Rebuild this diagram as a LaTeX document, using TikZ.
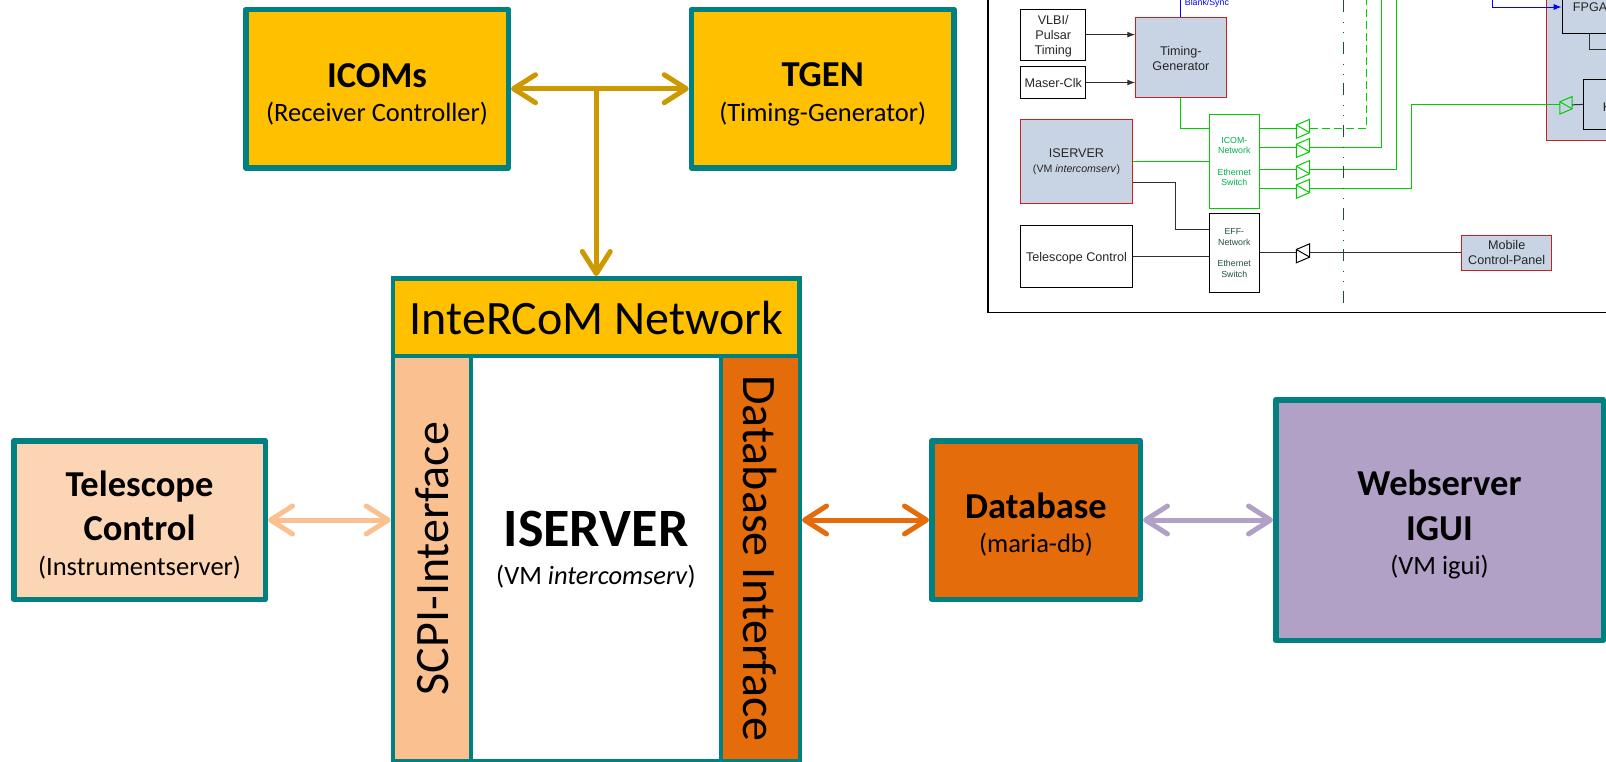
\documentclass[tikz,border=0pt]{standalone}
\usepackage{fontspec}
\setmainfont{Carlito}
\newfontfamily\insetfont{Liberation Sans}
\usepackage{xcolor}
\usetikzlibrary{arrows.meta}

\definecolor{tealb}{HTML}{008080}
\definecolor{amber}{HTML}{FFC000}
\definecolor{amberd}{HTML}{CC9900}
\definecolor{peachl}{HTML}{FCD5B5}
\definecolor{peach}{HTML}{FAC090}
\definecolor{rust}{HTML}{E46C0A}
\definecolor{lilac}{HTML}{B2A1C7}
\definecolor{steel}{HTML}{C8D4E4}
\definecolor{redb}{HTML}{C82020}
\definecolor{lgreen}{HTML}{00CC00}
\definecolor{tgreen}{HTML}{00B050}
\definecolor{dgreen}{HTML}{1F5038}
\definecolor{dline}{HTML}{303030}

\newcommand{\bigname}[1]{{\fontsize{36.5}{36}\selectfont\bfseries #1}}
\newcommand{\topgap}{\rule{0pt}{35pt}}

\tikzset{
    bigbox/.style={draw=tealb,line width=5.5pt,line join=round,inner sep=0pt,align=center,
        minimum height=158.5pt,font=\fontsize{26.5}{34.5}\selectfont},
    panel/.style={draw=tealb,line width=4.5pt,inner sep=0pt,align=center,font=\fontsize{48}{50}\selectfont},
    link/.style={line width=5pt,line cap=round,{Straight Barb[length=22pt,width=28pt,round]}-{Straight Barb[length=22pt,width=28pt,round]}},
    inbox/.style={draw=black,line width=0.9pt,inner sep=0pt,align=center,text=black!85,
        font=\insetfont\fontsize{12.6}{15}\selectfont},
    hotbox/.style={inbox,draw=redb,fill=steel},
    tinybox/.style={inbox,font=\insetfont\fontsize{8.8}{10.5}\selectfont},
    gline/.style={draw=lgreen,line width=1pt},
    bline/.style={draw=dline,line width=1pt},
    tipline/.style={-{Latex[length=8pt,width=6pt]}},
    opto/.pic={
        \draw[pic actions] (-6.7,-3.3) -- (6.7,-9) -- (6.7,4.3) -- (-6.7,10) -- cycle;
        \draw[pic actions] (-6.7,-3.3) -- (6.7,4.3);
        \coordinate (-in) at (-6.7,0);
        \coordinate (-out) at (6.7,0);
    }
}

\begin{document}
\begin{tikzpicture}[x=1pt,y=-1pt]
    \useasboundingbox (0,0) rectangle (1606,761);
    \clip (0,0) rectangle (1606,761);

    % main blocks
    \node[bigbox,fill=amber,minimum width=262.5pt] (icoms) at (377,88.7) {\topgap\bigname{ICOMs}\\(Receiver Controller)};
    \node[bigbox,fill=amber,minimum width=262.5pt] (tgen) at (822.7,88.7) {\topgap\bigname{TGEN}\\(Timing-Generator)};
    \node[bigbox,fill=peachl,minimum width=251.5pt] (telescope) at (139.5,520) {\topgap\bigname{Telescope}\\[10pt]\bigname{Control}\\(Instrumentserver)};
    \node[bigbox,fill=rust,minimum width=208.5pt] (database) at (1036,520) {\topgap\bigname{Database}\\(maria-db)};
    \node[bigbox,fill=lilac,minimum width=327.5pt,minimum height=240.5pt] (webserver) at (1439.5,520) {\topgap\bigname{Webserver}\\[10pt]\bigname{IGUI}\\(VM igui)};

    \node[panel,fill=amber,minimum width=406.5pt,minimum height=77.5pt] (network) at (596.3,317) {\rule{0pt}{36pt}InteRCoM Network};
    \node[panel,fill=peach,minimum width=78pt,minimum height=405pt] (scpi) at (432,558.5) {\rotatebox{90}{SCPI-Interface}};
    \node[panel,fill=white,minimum width=250pt,minimum height=405pt] (iserver) at (596,558.5) {};
    \node[panel,fill=rust,minimum width=79pt,minimum height=405pt] (dbif) at (760.3,558.5) {\rotatebox{-90}{Database Interface}};
    \node[align=center,inner sep=0pt,font=\fontsize{26.5}{38}\selectfont] (iservertxt) at (596,550) {{\fontsize{54}{54}\selectfont\bfseries ISERVER}\\(VM \textit{intercomserv})};

    % links
    \draw[link,color=amberd] (icoms) -- (tgen);
    \draw[line width=5pt,line cap=round,color=amberd,-{Straight Barb[length=22pt,width=28pt,round]}] (network.north |- icoms) -- (network.north);
    \draw[link,color=peach] (telescope) -- (scpi.west |- telescope);
    \draw[link,color=rust] (dbif.east |- database) -- (database);
    \draw[link,color=lilac] (database) -- (webserver);

    % inset
    \draw[line width=1.3pt] (988,-5) -- (988,312.5) -- (1612,312.5);
    \draw[draw=redb,fill=steel,line width=0.9pt] (1546.7,-5) rectangle (1612,140);

    \node[inbox,minimum width=65pt,minimum height=50.7pt] (vlbi) at (1053.2,34.65) {\rule{0pt}{11.5pt}VLBI/\\Pulsar\\Timing};
    \node[inbox,minimum width=65pt,minimum height=31.6pt] (maser) at (1053.2,82.5) {Maser-Clk};
    \node[hotbox,minimum width=90.3pt,minimum height=80pt] (timing) at (1180.85,57.3) {\rule{0pt}{11pt}Timing-\\Generator};
    \node[hotbox,minimum width=111.6pt,minimum height=84pt] (iservers) at (1076.5,161.3) {ISERVER\\{\fontsize{10.6}{15}\selectfont(VM \textit{intercomserv})}};
    \node[inbox,minimum width=111.6pt,minimum height=62.4pt] (telescopes) at (1076.5,256.5) {\rule{0pt}{12.5pt}Telescope Control};
    \node[tinybox,draw=lgreen,text=tgreen,minimum width=50pt,minimum height=94pt] (icom) at (1234.3,161.3) {ICOM-\\Network\\[11pt]Ethernet\\Switch};
    \node[tinybox,text=dgreen,minimum width=50pt,minimum height=79pt] (eff) at (1234.3,252.8) {EFF-\\Network\\[11pt]Ethernet\\Switch};
    \node[hotbox,minimum width=90pt,minimum height=35pt] (mobile) at (1506.7,252.8) {Mobile\\Control-Panel};
    \node[inbox,fill=steel,anchor=south west,minimum width=60pt,minimum height=50pt] (fpga) at (1561.7,34.3) {};
    \node[inbox,fill=steel,anchor=south west,minimum width=60pt,minimum height=50.3pt] (kbox) at (1583,130) {};
    \node[inner sep=0pt,anchor=west,text=black!85,font=\insetfont\fontsize{12.6}{15}\selectfont] (fpgatxt) at (1572.7,6.7) {FPGA};
    \node[inner sep=0pt,anchor=west,text=black!85,font=\insetfont\fontsize{12.6}{15}\selectfont] (ktxt) at (1602.7,107) {K};
    \node[inner sep=0pt,anchor=west,text=blue,font=\insetfont\fontsize{8.8}{10}\selectfont] (blank) at (1184.7,3) {Blank/Sync};

    \pic[gline] (t1) at (1303,128.3) {opto};
    \pic[gline] (t2) at (1303,147.5) {opto};
    \pic[gline] (t3) at (1303,169.5) {opto};
    \pic[gline] (t4) at (1303,188.3) {opto};
    \pic[gline,scale=0.92] (t5) at (1566,104.85) {opto};
    \pic[bline,draw=black] (t6) at (1303,252.8) {opto};

    \coordinate (bluebend) at (1492.7,7);
    \coordinate (bus1) at (1366.3,-3);
    \coordinate (bus2) at (1381.3,-3);
    \coordinate (bus3) at (1396.3,-3);
    \coordinate (bus4) at (1411.3,104.85);
    \coordinate (joga) at (1175.7,182.7);
    \coordinate (jogb) at (1175.7,229);
    \coordinate (stub) at (1612,49.7);
    \coordinate (sepbot) at (1343.7,302.7);
    \coordinate (septop) at (1343.7,-5);

    \draw[bline,tipline] (vlbi) -- (timing.west |- vlbi);
    \draw[bline,tipline] (maser) -- (timing.west |- maser);
    \draw[gline] (timing.south) |- (icom.west |- t1-in);
    \draw[gline] (iservers) -- (icom.west |- iservers);
    \draw[bline] (iservers.east |- joga) -- (joga) -- (jogb) -- (eff.west |- jogb);
    \draw[bline] (telescopes) -- (eff.west |- telescopes);
    \draw[draw=blue,line width=1pt] (timing.north) -- ++(0,-30);
    \draw[draw=blue,line width=1pt,tipline] (bluebend |- septop) -- (bluebend) -- (fpga.west |- bluebend);
    \draw[bline] (fpga.south west) ++(27.6,0) |- (stub);

    \draw[gline] (icom.east |- t1-in) -- (t1-in);
    \draw[gline] (icom.east |- t2-in) -- (t2-in);
    \draw[gline] (icom.east |- t3-in) -- (t3-in);
    \draw[gline] (icom.east |- t4-in) -- (t4-in);
    \draw[gline,dash pattern=on 8pt off 4pt] (t1-out) -| (bus1);
    \draw[gline] (t2-out) -| (bus2);
    \draw[gline] (t3-out) -| (bus3);
    \draw[gline] (t4-out) -| (bus4) -- (t5-in);
    \draw[bline] (t5-out) -- (kbox.west);
    \draw[bline] (eff.east |- t6-in) -- (t6-in);
    \draw[bline] (t6-out) -- (mobile.west);

    \draw[draw=dgreen,line width=1.4pt,dash pattern=on 12pt off 8.5pt on 1pt off 9pt on 1pt off 10pt] (sepbot) -- (septop);
\end{tikzpicture}
\end{document}
